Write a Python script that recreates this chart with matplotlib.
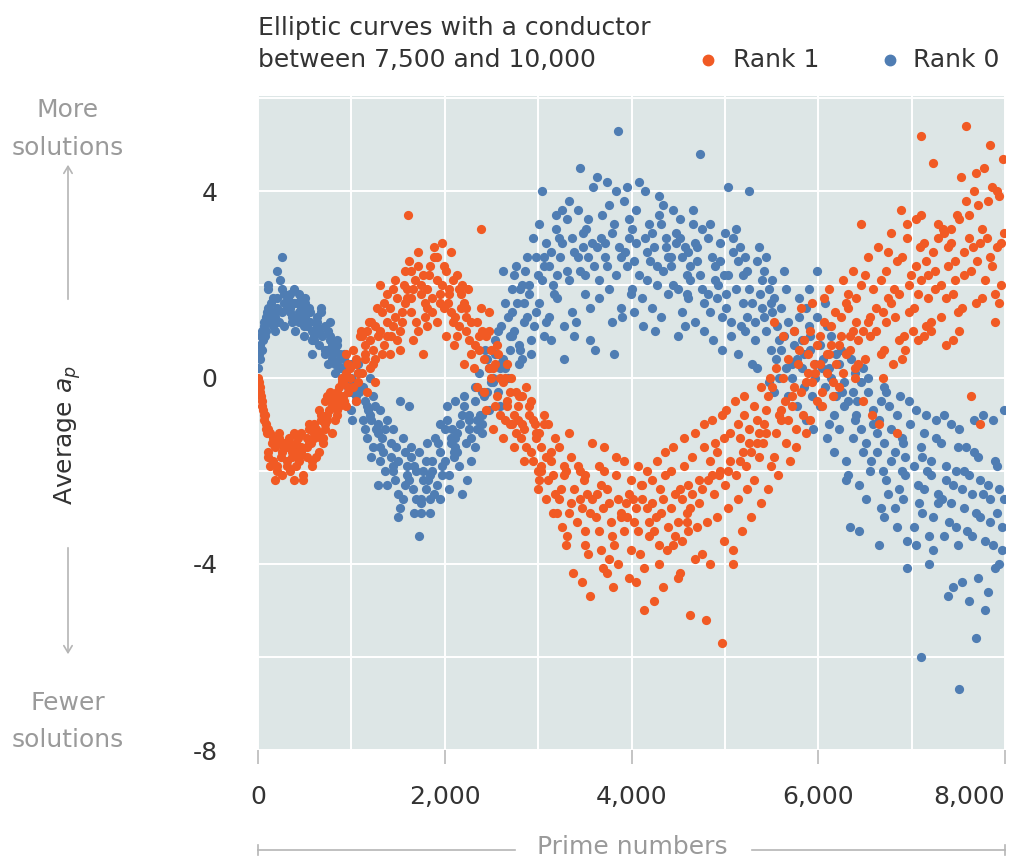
import numpy as np
import matplotlib.pyplot as plt
from matplotlib.lines import Line2D
from matplotlib.patches import FancyArrowPatch

plt.rcParams['font.family'] = ['DejaVu Sans']

# average a_p, one list per 100-wide bin of primes
bin_width = 100

rank0 = [
    [0.2, 0.5, 0.4, 0.7, 0.9, 0.6, 1.0, 0.8, 1.2, 1.1, 0.9, 1.3, 1.0, 1.4],
    [1.2, 1.5, 1.0, 1.7, 1.3, 1.9, 1.4, 1.1, 1.6, 2.0, 1.3],
    [1.5, 1.8, 2.6, 1.2, 2.3, 1.6, 1.4, 2.1, 1.7, 1.1, 1.9],
    [1.6, 1.3, 1.8, 1.5, 1.9, 1.2, 1.4, 1.7, 1.0, 1.6, 1.5],
    [1.4, 1.7, 1.2, 1.6, 0.9, 1.5, 1.8, 1.3, 1.1, 1.6, 1.4],
    [1.3, 1.0, 1.5, 1.2, 1.7, 0.8, 1.4, 1.1, 1.6, 0.5, 1.2],
    [1.1, 0.9, 1.4, 1.0, 1.2, 0.8, 1.5, 0.7, 1.3, 1.0, 0.9],
    [0.9, 0.6, 1.1, 0.4, 0.8, 1.0, 0.5, 0.7, 1.2, 0.3, 0.6],
    [0.6, 0.2, 0.5, 0.8, 0.3, 0.0, 0.4, 0.7, 0.1, 0.5, 0.2],
    [0.3, -0.1, 0.2, 0.5, 0.0, -0.2, 0.1, 0.4, -0.3, 0.2, 0.0],
    [0.1, -0.4, -0.2, -0.7, 0.3, -0.5, -0.1, -0.9, -0.3],
    [-0.6, -1.1, -0.2, -0.8, -1.3, -0.5, -0.9, 0.0, -0.7],
    [-1.2, -0.6, -1.5, -0.9, -2.3, -1.1, -0.4, -1.7, -1.0],
    [-1.5, -0.9, -2.0, -1.3, -1.8, -2.3, -1.1, -1.6, -0.7],
    [-1.9, -1.4, -3.0, -2.2, -1.1, -1.7, -2.5, -1.5, -2.0],
    [-2.1, -1.6, -2.6, -0.5, -1.9, -2.3, -1.3, -2.8, -1.8],
    [-2.4, -1.7, -0.6, -2.0, -2.9, -1.5, -2.2, -2.6, -1.9],
    [-2.6, -3.4, -1.8, -2.2, -2.9, -1.6, -2.4, -2.0, -2.7],
    [-2.1, -1.4, -2.5, -1.8, -2.9, -2.2, -1.3, -2.0, -2.6],
    [-1.6, -2.3, -1.1, -1.9, -2.6, -1.4, -1.8, -2.1, -1.0],
    [-1.3, -2.1, -0.9, -1.7, -1.4, -2.4, -0.6, -1.6, -1.1],
    [-1.5, -0.8, -1.9, -1.2, -0.5, -2.5, -1.0, -1.6, -1.3],
    [-0.8, -1.4, -0.4, -1.8, -1.1, -2.2, -0.6, -1.3, -0.9],
    [-0.5, -1.2, 0.1, -0.9, -1.5, -0.3, -0.8, -1.1, -0.2],
    [-0.1, -0.7, 0.4, -0.4, -1.0, 0.2, -0.3, 0.6, -0.8],
    [0.3, -0.3, 0.8, 0.0, -0.6, 1.0, 0.5, -0.1, 0.2],
    [0.6, 1.3, 0.2, 2.3, 0.9, 0.0, 1.6, 0.4, 1.1],
    [1.4, 0.7, 2.4, 1.0, 1.9, 0.3, 1.6, 2.2, 0.9],
    [1.2, 2.0, 0.6, 2.6, 1.6, 0.4, 1.9, 1.3, 2.3],
    [2.2, 1.4, 3.0, 0.8, 1.8, 2.6, 1.1, 0.5, 2.0],
    [2.4, 4.0, 1.6, 2.9, 0.9, 2.1, 3.3, 1.2, 2.6],
    [2.7, 1.3, 3.2, 2.0, 0.8, 2.4, 3.5, 1.8],
    [3.0, 2.2, 1.1, 3.6, 2.6, 1.7, 0.4, 2.9],
    [2.1, 3.4, 2.7, 1.4, 3.8, 2.3, 0.9, 3.0],
    [4.5, 2.6, 1.8, 3.1, 2.3, 3.6, 1.2, 2.8],
    [2.9, 1.5, 3.4, 2.2, 4.1, 0.8, 2.6, 3.2],
    [4.3, 2.4, 3.0, 1.7, 2.8, 0.6, 3.5, 2.1],
    [3.1, 1.9, 4.2, 2.6, 1.2, 3.7, 2.4, 2.9],
    [5.3, 2.2, 3.3, 1.5, 2.8, 4.0, 0.5, 2.6],
    [2.4, 3.8, 1.8, 3.0, 4.1, 2.7, 1.3, 3.4],
    [3.6, 2.5, 1.9, 4.2, 2.9, 1.4, 3.2, 2.2],
    [2.7, 4.0, 1.7, 3.3, 2.1, 3.0, 1.1, 2.5],
    [3.5, 2.0, 2.8, 1.5, 3.9, 2.4, 1.0, 3.1],
    [2.3, 3.3, 1.8, 2.8, 3.7, 1.3, 2.6, 3.0],
    [1.9, 2.9, 3.6, 2.4, 0.9, 3.1, 2.0, 2.6],
    [2.8, 1.4, 3.4, 2.2, 1.1, 2.6, 3.0, 1.8],
    [3.6, 2.1, 2.7, 1.2, 3.3, 2.4, 1.7, 2.9],
    [1.9, 4.8, 2.5, 1.0, 3.2, 2.2, 2.8, 1.6],
    [2.6, 1.4, 3.0, 2.1, 0.8, 3.3, 1.8, 2.4],
    [2.2, 0.6, 2.9, 1.7, 3.1, 1.3, 2.5, 2.0],
    [4.1, 1.5, 2.7, 0.9, 2.2, 1.8, 3.0, 1.2],
    [1.6, 2.8, 0.5, 3.2, 2.2, 1.1, 2.5, 1.9],
    [4.0, 1.3, 2.6, 0.3, 1.9, 2.3, 1.0, 1.6],
    [2.5, 0.8, 1.5, 2.8, 0.2, 1.2, 2.1, 1.8],
    [1.0, 2.3, 1.6, -0.1, 2.6, 1.3, 0.6, 1.9],
    [0.4, 1.7, 2.1, 0.0, 1.1, -0.3, 1.4, 0.8],
    [1.2, 0.2, 2.3, 0.6, -0.4, 1.9, 0.9, 1.5],
    [0.3, 1.7, -0.6, 1.0, 0.0, 1.3, 0.4, 0.7],
    [1.5, -0.2, 0.8, 1.9, -0.9, 0.5, 0.2, 1.1],
    [-0.4, 0.9, 2.3, 0.0, -1.1, 0.6, 1.3, 0.3],
    [0.7, -1.3, 1.6, 0.2, -0.6, 1.1, -0.2, 0.4],
    [-1.0, 0.5, -1.6, 0.9, 0.2, -0.4, -0.8, 0.0],
    [0.3, -2.2, -0.6, 0.6, -1.1, -1.8, -0.1, -0.3],
    [-3.2, -0.5, 0.1, -1.3, 0.4, -2.1, -0.9, -0.3],
    [-1.6, -0.1, -3.3, -0.8, 0.2, -1.1, -2.3, -0.5],
    [-0.3, -2.6, -1.0, -2.0, 0.0, -1.4, -0.7, -1.8],
    [-2.0, -0.5, -3.6, -1.2, -0.2, -2.8, -0.9, -1.6],
    [-1.1, -2.5, -0.3, -3.0, -1.8, -0.6, -2.2, -1.4],
    [-2.4, -0.8, -2.8, -1.3, -0.4, -3.2, -1.6, -2.0],
    [-0.5, -4.1, -1.7, -2.6, -1.0, -3.5, -2.1, -1.4],
    [-6.0, -2.3, -0.7, -3.2, -1.5, -2.7, -3.6, -1.9],
    [-1.2, -2.9, -4.0, -0.8, -2.4, -1.7, -3.4, -2.0],
    [-2.7, -0.9, -3.7, -1.8, -2.5, -1.3, -3.0, -2.1],
    [-3.4, -1.4, -4.7, -2.2, -0.8, -2.6, -3.1, -1.9],
    [-1.0, -3.6, -2.0, -4.5, -2.7, -1.5, -3.2, -2.3],
    [-6.7, -1.5, -2.8, -4.4, -1.1, -3.3, -2.0, -2.4],
    [-2.1, -5.6, -0.9, -3.4, -4.8, -2.9, -1.6, -2.5],
    [-3.0, -1.7, -5.0, -0.8, -2.2, -4.3, -3.5, -2.5],
    [-0.9, -2.6, -4.6, -1.8, -3.6, -3.1, -2.3, -4.1],
    [-2.9, -0.7, -3.7, -4.0, -1.9, -2.6, -3.2, -2.4],
]

rank1 = [
    [0.0, -0.1, -0.2, -0.3, -0.4, -0.5, -0.6, -0.7, -0.8, -0.9, -0.8, -1.0, -1.1, -1.2],
    [-1.1, -2.2, -1.4, -1.2, -1.7, -1.5, -1.3, -1.9, -1.6, -1.4, -1.8],
    [-1.4, -1.7, -1.3, -2.0, -1.5, -1.6, -1.2, -1.9, -1.5, -2.1, -1.4],
    [-1.5, -1.3, -1.8, -2.2, -1.6, -1.4, -1.9, -1.2, -1.7, -2.0, -1.5],
    [-1.6, -1.3, -1.9, -2.2, -1.5, -1.8, -1.4, -2.1, -1.2, -1.7, -1.6],
    [-1.4, -1.1, -1.7, -1.3, -1.9, -1.0, -1.5, -1.2, -1.8, -1.4, -1.3],
    [-1.3, -0.9, -1.6, -1.1, -1.4, -0.8, -1.2, -1.7, -1.0, -1.3, -0.7],
    [-0.9, -0.5, -1.2, -0.7, -0.4, -1.0, -0.6, -0.3, -0.8, -1.1, -0.5],
    [-0.5, -0.2, -0.8, -0.4, 0.0, -0.6, -0.3, -0.9, -0.1, -0.5, -0.7],
    [-0.2, 0.1, -0.4, 0.0, 0.3, -0.6, -0.1, 0.2, -0.3, 0.5, -0.5],
    [0.4, -0.2, 0.9, 0.1, -0.5, 0.6, 1.0, -0.1, 0.3],
    [0.7, 0.1, 1.2, -0.3, 0.5, 0.9, 0.2, 1.0, 0.4],
    [1.1, 0.3, 0.8, 1.5, -0.1, 0.6, 1.2, 0.9, 0.4],
    [0.9, 1.6, 0.5, 2.0, 1.2, 0.7, 1.4, 1.0, 1.8],
    [1.5, 0.8, 2.1, 1.1, 0.5, 1.7, 1.3, 1.9, 0.9],
    [2.0, 1.2, 0.6, 1.7, 2.3, 1.4, 1.0, 1.9, 1.6],
    [1.4, 3.5, 2.1, 0.8, 1.7, 2.5, 1.2, 1.9, 2.3],
    [2.4, 1.6, 0.5, 2.0, 2.7, 1.3, 2.2, 1.8, 1.0],
    [1.9, 2.6, 1.4, 2.2, 1.1, 2.8, 1.7, 2.4, 1.5],
    [2.1, 1.5, 2.9, 1.8, 1.2, 2.4, 2.0, 1.6, 2.6],
    [1.6, 2.3, 1.2, 2.7, 1.9, 0.9, 2.1, 1.4, 1.8],
    [1.8, 1.1, 2.2, 0.7, 1.5, 1.9, 0.9, 1.3, 2.0],
    [1.0, 1.6, 0.5, 1.9, 1.3, 0.3, 1.2, 0.8, 1.5],
    [3.2, 0.6, 1.2, 0.2, 1.5, 0.9, -0.2, 0.7, 1.0],
    [0.2, 0.9, -0.3, 0.6, 1.4, -0.7, 0.4, 0.0, 1.0],
    [-0.4, 0.3, -1.1, 0.0, 0.7, -0.6, 0.2, -0.8, 0.5],
    [-0.6, 0.0, -1.3, -0.3, 0.3, -0.9, -0.1, -1.0, -0.5],
    [-0.9, -0.3, -1.5, 0.0, -0.6, -1.2, -0.8, -1.0, -0.4],
    [-1.3, -0.6, -0.2, -1.8, -1.0, -0.8, -1.5, -1.1, -0.4],
    [-1.0, -1.8, -0.5, -2.4, -1.3, -0.9, -1.6, -2.0, -1.2],
    [-1.9, -1.2, -2.6, -0.8, -1.5, -2.2, -1.7, -1.0, -2.0],
    [-2.2, -1.3, -2.9, -1.8, -1.0, -2.5, -2.1, -1.6],
    [-3.6, -1.9, -2.4, -1.5, -2.9, -2.1, -3.2, -2.6],
    [-2.0, -4.2, -2.7, -1.2, -3.4, -2.4, -1.7, -2.9],
    [-3.1, -2.2, -4.4, -2.6, -1.9, -3.6, -2.8, -2.0],
    [-4.7, -2.5, -3.3, -1.4, -2.9, -3.8, -2.1, -2.6],
    [-2.8, -3.7, -1.9, -3.0, -4.1, -2.3, -3.3, -2.5],
    [-3.9, -2.4, -1.5, -3.1, -2.7, -4.2, -2.0, -3.4],
    [-2.1, -4.5, -3.0, -2.6, -1.7, -3.6, -2.9, -4.0],
    [-3.3, -2.2, -4.3, -2.7, -1.8, -3.7, -2.5, -3.0],
    [-2.6, -3.8, -1.9, -4.4, -3.1, -2.3, -3.3, -2.8],
    [-5.0, -2.6, -3.4, -2.0, -4.1, -2.3, -3.1, -2.8],
    [-3.0, -4.8, -2.2, -3.6, -1.8, -3.3, -2.7, -4.0],
    [-2.4, -3.7, -1.6, -4.5, -2.9, -3.2, -2.1, -2.6],
    [-3.4, -1.5, -2.8, -4.3, -2.5, -3.6, -2.0, -3.1],
    [-2.6, -4.2, -3.1, -1.3, -3.5, -2.4, -2.9, -1.9],
    [-5.1, -2.3, -3.9, -1.7, -2.8, -3.3, -1.2, -2.5],
    [-2.7, -5.2, -1.5, -3.8, -2.2, -3.2, -1.0, -2.4],
    [-1.8, -3.1, -2.5, -0.9, -4.0, -2.2, -1.4, -2.1],
    [-5.7, -2.1, -1.6, -3.5, -0.8, -2.0, -3.0, -1.3],
    [-2.3, -4.0, -1.2, -2.8, -0.7, -3.7, -1.8, -2.0],
    [-1.3, -2.6, -0.5, -3.3, -1.8, -1.0, -2.1, -1.6],
    [-1.9, -0.8, -3.0, -1.1, -2.4, -0.4, -1.6, -1.4],
    [-0.6, -2.7, -1.2, -0.9, -2.2, -0.2, -1.7, -1.4],
    [-1.4, 0.0, -2.4, -0.7, -1.0, -1.9, -0.4, -1.2],
    [1.2, -0.9, -2.1, 0.2, -1.7, -0.2, -0.8, -1.2],
    [-0.5, 0.9, -1.8, 0.4, -1.4, 0.0, -0.7, -0.9],
    [0.3, -1.5, 1.0, -0.4, 0.6, -1.1, -0.2, -0.6],
    [-0.8, 1.5, 0.1, -1.2, 0.8, -0.3, 0.5, -0.1],
    [1.0, -0.5, 0.3, 1.6, -0.9, 0.7, 0.1, -0.1],
    [0.1, 1.7, -0.6, 0.9, 0.5, 1.2, -0.3, 0.3],
    [1.4, -0.4, 0.7, 1.9, 0.3, -0.1, 1.1, 0.5],
    [0.5, 2.1, 0.9, -0.2, 1.6, 0.1, 1.3, 0.7],
    [1.8, 0.2, 2.3, 0.6, 1.5, 0.0, 1.0, 0.9],
    [3.3, 0.8, 1.7, -0.5, 2.0, 0.3, 1.2, 1.0],
    [2.2, -0.8, 1.3, 2.6, 0.4, 1.9, 0.9, 1.2],
    [0.5, 2.8, 1.5, 0.0, 2.1, -1.0, 1.0, 1.4],
    [2.7, 1.2, 0.3, 3.1, 1.7, 2.3, 0.6, 1.6],
    [-1.2, 1.9, 3.6, 0.8, 2.5, 1.3, 0.4, 1.8],
    [3.0, 0.9, 2.2, 1.4, 3.3, 0.6, 2.6, 2.0],
    [1.8, 3.4, 1.0, 2.8, 0.8, 2.4, 1.5, 2.1],
    [5.2, 1.7, 2.5, 0.9, 3.5, 2.2, 1.1, 2.9],
    [2.3, 4.6, 1.2, 3.3, 1.9, 2.7, 1.0, 3.0],
    [1.3, 2.8, 0.7, 3.2, 2.0, 2.4, 1.7, 3.1],
    [3.5, 2.1, 0.8, 2.9, 1.4, 2.5, 1.8, 3.2],
    [5.4, 2.2, 4.3, 1.0, 3.8, 2.7, 1.5, 3.4],
    [4.4, 2.8, -0.4, 3.5, 1.6, 4.0, 2.3, 3.0],
    [2.5, 4.5, 1.7, -1.0, 3.7, 2.1, 3.2, 2.9],
    [5.0, 3.0, 1.2, 4.1, 2.6, 3.8, 1.8, 2.4],
    [4.7, 2.9, 1.6, 4.0, 3.1, 2.0, 3.9, 2.8],
]

x_ticks = [0, 2000, 4000, 6000, 8000]
x_tick_labels = ['0', '2,000', '4,000', '6,000', '8,000']
y_ticks = [-8, -4, 0, 4]
y_tick_labels = ['-8', '-4', '0', '4']

orange = '#f15a24'
blue = '#4f7db3'
bg = '#dde6e6'
grey = '#9a9a9a'
line_grey = '#b5b5b5'
dark = '#333333'


# place the values of each bin across its width
# (first bin keeps its order since the curve is steep there)
def flatten(bins, shift):
    xs, ys = [], []
    for i, vals in enumerate(bins):
        n = len(vals)
        for k, v in enumerate(vals):
            if i == 0:
                frac = (k + 0.5) / n
            else:
                frac = ((k + 1) * 0.754878 + (i * i + shift) * 0.569840) % 1.0
            xs.append(i * bin_width + frac * bin_width)
            ys.append(v)
    return np.array(xs), np.array(ys)


x0, y0 = flatten(rank0, 0)
x1, y1 = flatten(rank1, 3)

W, H = 1013, 859
fig = plt.figure(figsize=(W / 100, H / 100), dpi=100)
ax = fig.add_axes([258 / W, 1 - 750 / H, 747 / W, 654 / H])
ax.set_facecolor(bg)

ax.scatter(x0, y0, s=44, color=blue, linewidths=0, zorder=3)
ax.scatter(x1, y1, s=44, color=orange, linewidths=0, zorder=3)

ax.set_xlim(0, 8000)
ax.set_ylim(-8, 6.05)
ax.set_xticks(x_ticks)
ax.set_xticklabels(x_tick_labels)
ax.set_xticks(range(1000, 8000, 2000), minor=True)
ax.set_yticks(y_ticks)
ax.set_yticklabels(y_tick_labels)
ax.set_yticks([-6, -2, 2, 6], minor=True)
ax.grid(True, which='both', color='white', linewidth=1.4, zorder=1)
ax.set_axisbelow(True)
for s in ax.spines.values():
    s.set_visible(False)
ax.tick_params(axis='x', which='major', length=10, width=1.4, color='#c4c4c4',
               labelsize=18, labelcolor=dark, pad=15)
ax.tick_params(axis='x', which='minor', length=0)
ax.tick_params(axis='y', which='both', length=0, labelsize=18, labelcolor=dark, pad=29)
ax.get_xticklabels()[-1].set_ha('right')
ax.get_xticklabels()[-1].set_x(8000)


def fy(py):
    return 1 - py / H


fs = 18

# title and legend
fig.text(258 / W, fy(28), 'Elliptic curves with a conductor', fontsize=fs, color=dark, va='center')
fig.text(258 / W, fy(60), 'between 7,500 and 10,000', fontsize=fs, color=dark, va='center')
fig.add_artist(Line2D([708 / W], [fy(60)], marker='o', markersize=7.5, color=orange, linewidth=0))
fig.text(733 / W, fy(60), 'Rank 1', fontsize=fs, color=dark, va='center')
fig.add_artist(Line2D([890 / W], [fy(60)], marker='o', markersize=7.5, color=blue, linewidth=0))
fig.text(913 / W, fy(60), 'Rank 0', fontsize=fs, color=dark, va='center')

# left side annotations
fig.text(68 / W, fy(110), 'More', fontsize=fs, color=grey, ha='center', va='center')
fig.text(68 / W, fy(148), 'solutions', fontsize=fs, color=grey, ha='center', va='center')
fig.text(68 / W, fy(703), 'Fewer', fontsize=fs, color=grey, ha='center', va='center')
fig.text(68 / W, fy(740), 'solutions', fontsize=fs, color=grey, ha='center', va='center')
fig.text(68 / W, fy(435), r'Average $a_p$', fontsize=fs, color=dark,
         ha='center', va='center', rotation=90)
fig.patches.append(FancyArrowPatch(
    (68 / W, fy(302)), (68 / W, fy(162)), transform=fig.transFigure,
    arrowstyle='->,head_length=5,head_width=3', color=line_grey, linewidth=1.2))
fig.patches.append(FancyArrowPatch(
    (68 / W, fy(545)), (68 / W, fy(657)), transform=fig.transFigure,
    arrowstyle='->,head_length=5,head_width=3', color=line_grey, linewidth=1.2))

# x axis caption with bracket line
fig.text(632 / W, fy(847), 'Prime numbers', fontsize=fs, color=grey, ha='center', va='center')
fig.add_artist(Line2D([258 / W, 515 / W], [fy(850), fy(850)], color=line_grey, linewidth=1.2))
fig.add_artist(Line2D([752 / W, 1005 / W], [fy(850), fy(850)], color=line_grey, linewidth=1.2))
fig.add_artist(Line2D([258 / W, 258 / W], [fy(845), fy(855)], color=line_grey, linewidth=1.2))
fig.add_artist(Line2D([1005 / W, 1005 / W], [fy(845), fy(855)], color=line_grey, linewidth=1.2))

fig.savefig('out.png', dpi=100)
